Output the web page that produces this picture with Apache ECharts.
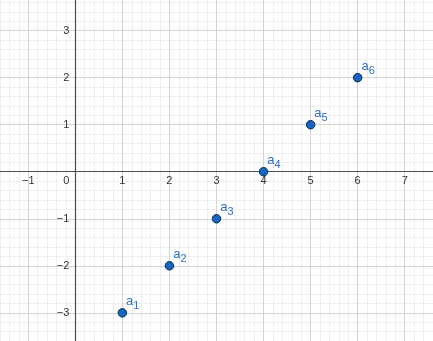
<!DOCTYPE html>
<html><head><meta charset="utf-8">
<script src="https://cdn.jsdelivr.net/npm/echarts@6/dist/echarts.min.js"></script>
<style>html,body{margin:0;padding:0;background:#fff}#c{width:433px;height:341px}</style>
</head><body><div id="c"></div>
<script>
const pointNames = ['1','2','3','4','5','6'];
const xValues = [1, 2, 3, 4, 5, 6];
const yValues = [-3, -2, -1, 0, 1, 2];
const xTickRange = [-2, 8];
const yTickRange = [-4, 4];

const minus = v => (v < 0 ? '\u2212' + Math.abs(v) : String(v));
const W = 433, H = 341;
const chart = echarts.init(document.getElementById('c'));
const font = 'Liberation Sans, Arial, sans-serif';
// grid extends beyond canvas so that integer min/max map to the visible window
const gl = -18.83, gr = -18.8, gt = -16.4, gb = -18.9;
const grid = {left: gl, right: gr, top: gt, bottom: gb, containLabel: false, outerBoundsMode: 'none'};
// shift axes from the grid edges to the zero lines
const gw = W - gl - gr, gh = H - gt - gb;
const x0px = gl + (0 - xTickRange[0]) / (xTickRange[1] - xTickRange[0]) * gw;
const y0px = gt + (yTickRange[1] - 0) / (yTickRange[1] - yTickRange[0]) * gh;
const xOffset = -((H - gb) - y0px);
const yOffset = -(x0px - gl);
chart.setOption({
  animation: false,
  backgroundColor: '#ffffff',
  grid: [grid],
  xAxis: [
    {type: 'value', position: 'bottom', offset: xOffset, min: xTickRange[0], max: xTickRange[1], interval: 1,
     axisLine: {show: true, onZero: false, lineStyle: {color: '#4d4d4d', width: 1.2}},
     axisTick: {show: false},
     axisLabel: {show: true, margin: 4, color: '#333', fontSize: 11, fontFamily: font,
       showMinLabel: false, showMaxLabel: false, hideOverlap: false,
       formatter: v => v === 0 ? '{z|0}' : minus(v),
       rich: {z: {padding: [0, 18, 0, 0], color: '#333', fontSize: 11, fontFamily: font}}},
     splitLine: {show: true, lineStyle: {color: '#d4d4d4', width: 1}}, z: 3},
    {type: 'value', position: 'top', min: xTickRange[0], max: xTickRange[1], interval: 0.2,
     axisLine: {show: false}, axisTick: {show: false}, axisLabel: {show: false},
     splitLine: {show: true, lineStyle: {color: '#efefef', width: 1}}, z: 1}
  ],
  yAxis: [
    {type: 'value', position: 'left', offset: yOffset, min: yTickRange[0], max: yTickRange[1], interval: 1,
     axisLine: {show: true, onZero: false, lineStyle: {color: '#4d4d4d', width: 1.2}},
     axisTick: {show: false},
     axisLabel: {show: true, margin: 6, color: '#333', fontSize: 11, fontFamily: font,
       showMinLabel: false, showMaxLabel: false, hideOverlap: false,
       formatter: v => v === 0 ? '' : minus(v)},
     splitLine: {show: true, lineStyle: {color: '#d4d4d4', width: 1}}, z: 3},
    {type: 'value', position: 'right', min: yTickRange[0], max: yTickRange[1], interval: 0.2,
     axisLine: {show: false}, axisTick: {show: false}, axisLabel: {show: false},
     splitLine: {show: true, lineStyle: {color: '#efefef', width: 1}}, z: 1}
  ],
  series: [{
    type: 'scatter', xAxisIndex: 0, yAxisIndex: 0, z: 5,
    symbol: 'circle', symbolSize: 8.5,
    itemStyle: {color: '#1565c0', borderColor: '#0a2a55', borderWidth: 1, opacity: 1},
    label: {show: true, position: 'right', distance: -1, offset: [0, -11],
      formatter: p => '{a|a}{s|' + p.name + '}',
      rich: {
        a: {color: '#2f6fc6', fontSize: 13, fontFamily: font, verticalAlign: 'top', lineHeight: 14},
        s: {color: '#2f6fc6', fontSize: 11, fontFamily: font, verticalAlign: 'top', padding: [6, 0, 0, 0], lineHeight: 12}
      }},
    data: xValues.map((x, i) => ({name: pointNames[i], value: [x, yValues[i]]}))
  }]
});
</script></body></html>
